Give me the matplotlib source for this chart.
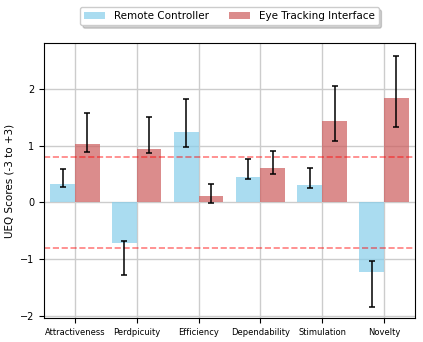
import matplotlib
matplotlib.use("Agg")
import matplotlib.pyplot as plt
import numpy as np

categories = ["Attractiveness", "Perdpicuity", "Efficiency", "Dependability", "Stimulation", "Novelty"]
rc_means = [0.32, -0.72, 1.24, 0.44, 0.31, -1.22]
rc_err_low = [0.28, -1.27, 0.98, 0.41, 0.25, -1.84]
rc_err_high = [0.59, -0.68, 1.81, 0.77, 0.60, -1.02]
et_means = [1.02, 0.94, 0.12, 0.61, 1.44, 1.84]
et_err_low = [0.88, 0.87, -0.01, 0.50, 1.08, 1.33]
et_err_high = [1.57, 1.51, 0.33, 0.91, 2.05, 2.57]
yticks = [-2, -1, 0, 1, 2]
threshold = 0.8

fig = plt.figure(figsize=(4.23, 3.42), dpi=100)
ax = fig.add_axes([0.104, 0.070, 0.877, 0.804])

x = np.arange(len(categories))
w = 0.4
rc_m = np.array(rc_means); et_m = np.array(et_means)
rc_yerr = [rc_m - np.array(rc_err_low), np.array(rc_err_high) - rc_m]
et_yerr = [et_m - np.array(et_err_low), np.array(et_err_high) - et_m]

ax.bar(x - w/2, rc_m, w, color="skyblue", alpha=0.7, label="Remote Controller", zorder=2)
ax.bar(x + w/2, et_m, w, color="indianred", alpha=0.7, label="Eye Tracking Interface", zorder=2)
ax.errorbar(x - w/2, rc_m, yerr=rc_yerr, fmt="none", ecolor="black", capsize=2.5, elinewidth=1.1, capthick=1.1, zorder=3)
ax.errorbar(x + w/2, et_m, yerr=et_yerr, fmt="none", ecolor="black", capsize=2.5, elinewidth=1.1, capthick=1.1, zorder=3)

ax.axhline(threshold, color="red", linestyle="--", alpha=0.5, linewidth=1.2, zorder=2.5)
ax.axhline(-threshold, color="red", linestyle="--", alpha=0.5, linewidth=1.2, zorder=2.5)

ax.set_xticks(x)
ax.set_xticklabels(categories, fontsize=6)
ax.set_yticks(yticks)
ax.tick_params(axis="y", labelsize=7)
ax.set_xlim(-0.5, len(categories) - 0.5)
ax.set_ylim(-2.03, 2.8)
ax.set_ylabel("UEQ Scores (-3 to +3)", fontsize=7.5)
ax.grid(True, color="#cccccc", linewidth=1.0, zorder=0)
ax.set_axisbelow(True)

ax.legend(loc="upper center", bbox_to_anchor=(0.5, 1.15), ncol=2, fontsize=7.5,
          shadow={"alpha": 0.25}, frameon=True)

fig.savefig("out.png", dpi=100)
